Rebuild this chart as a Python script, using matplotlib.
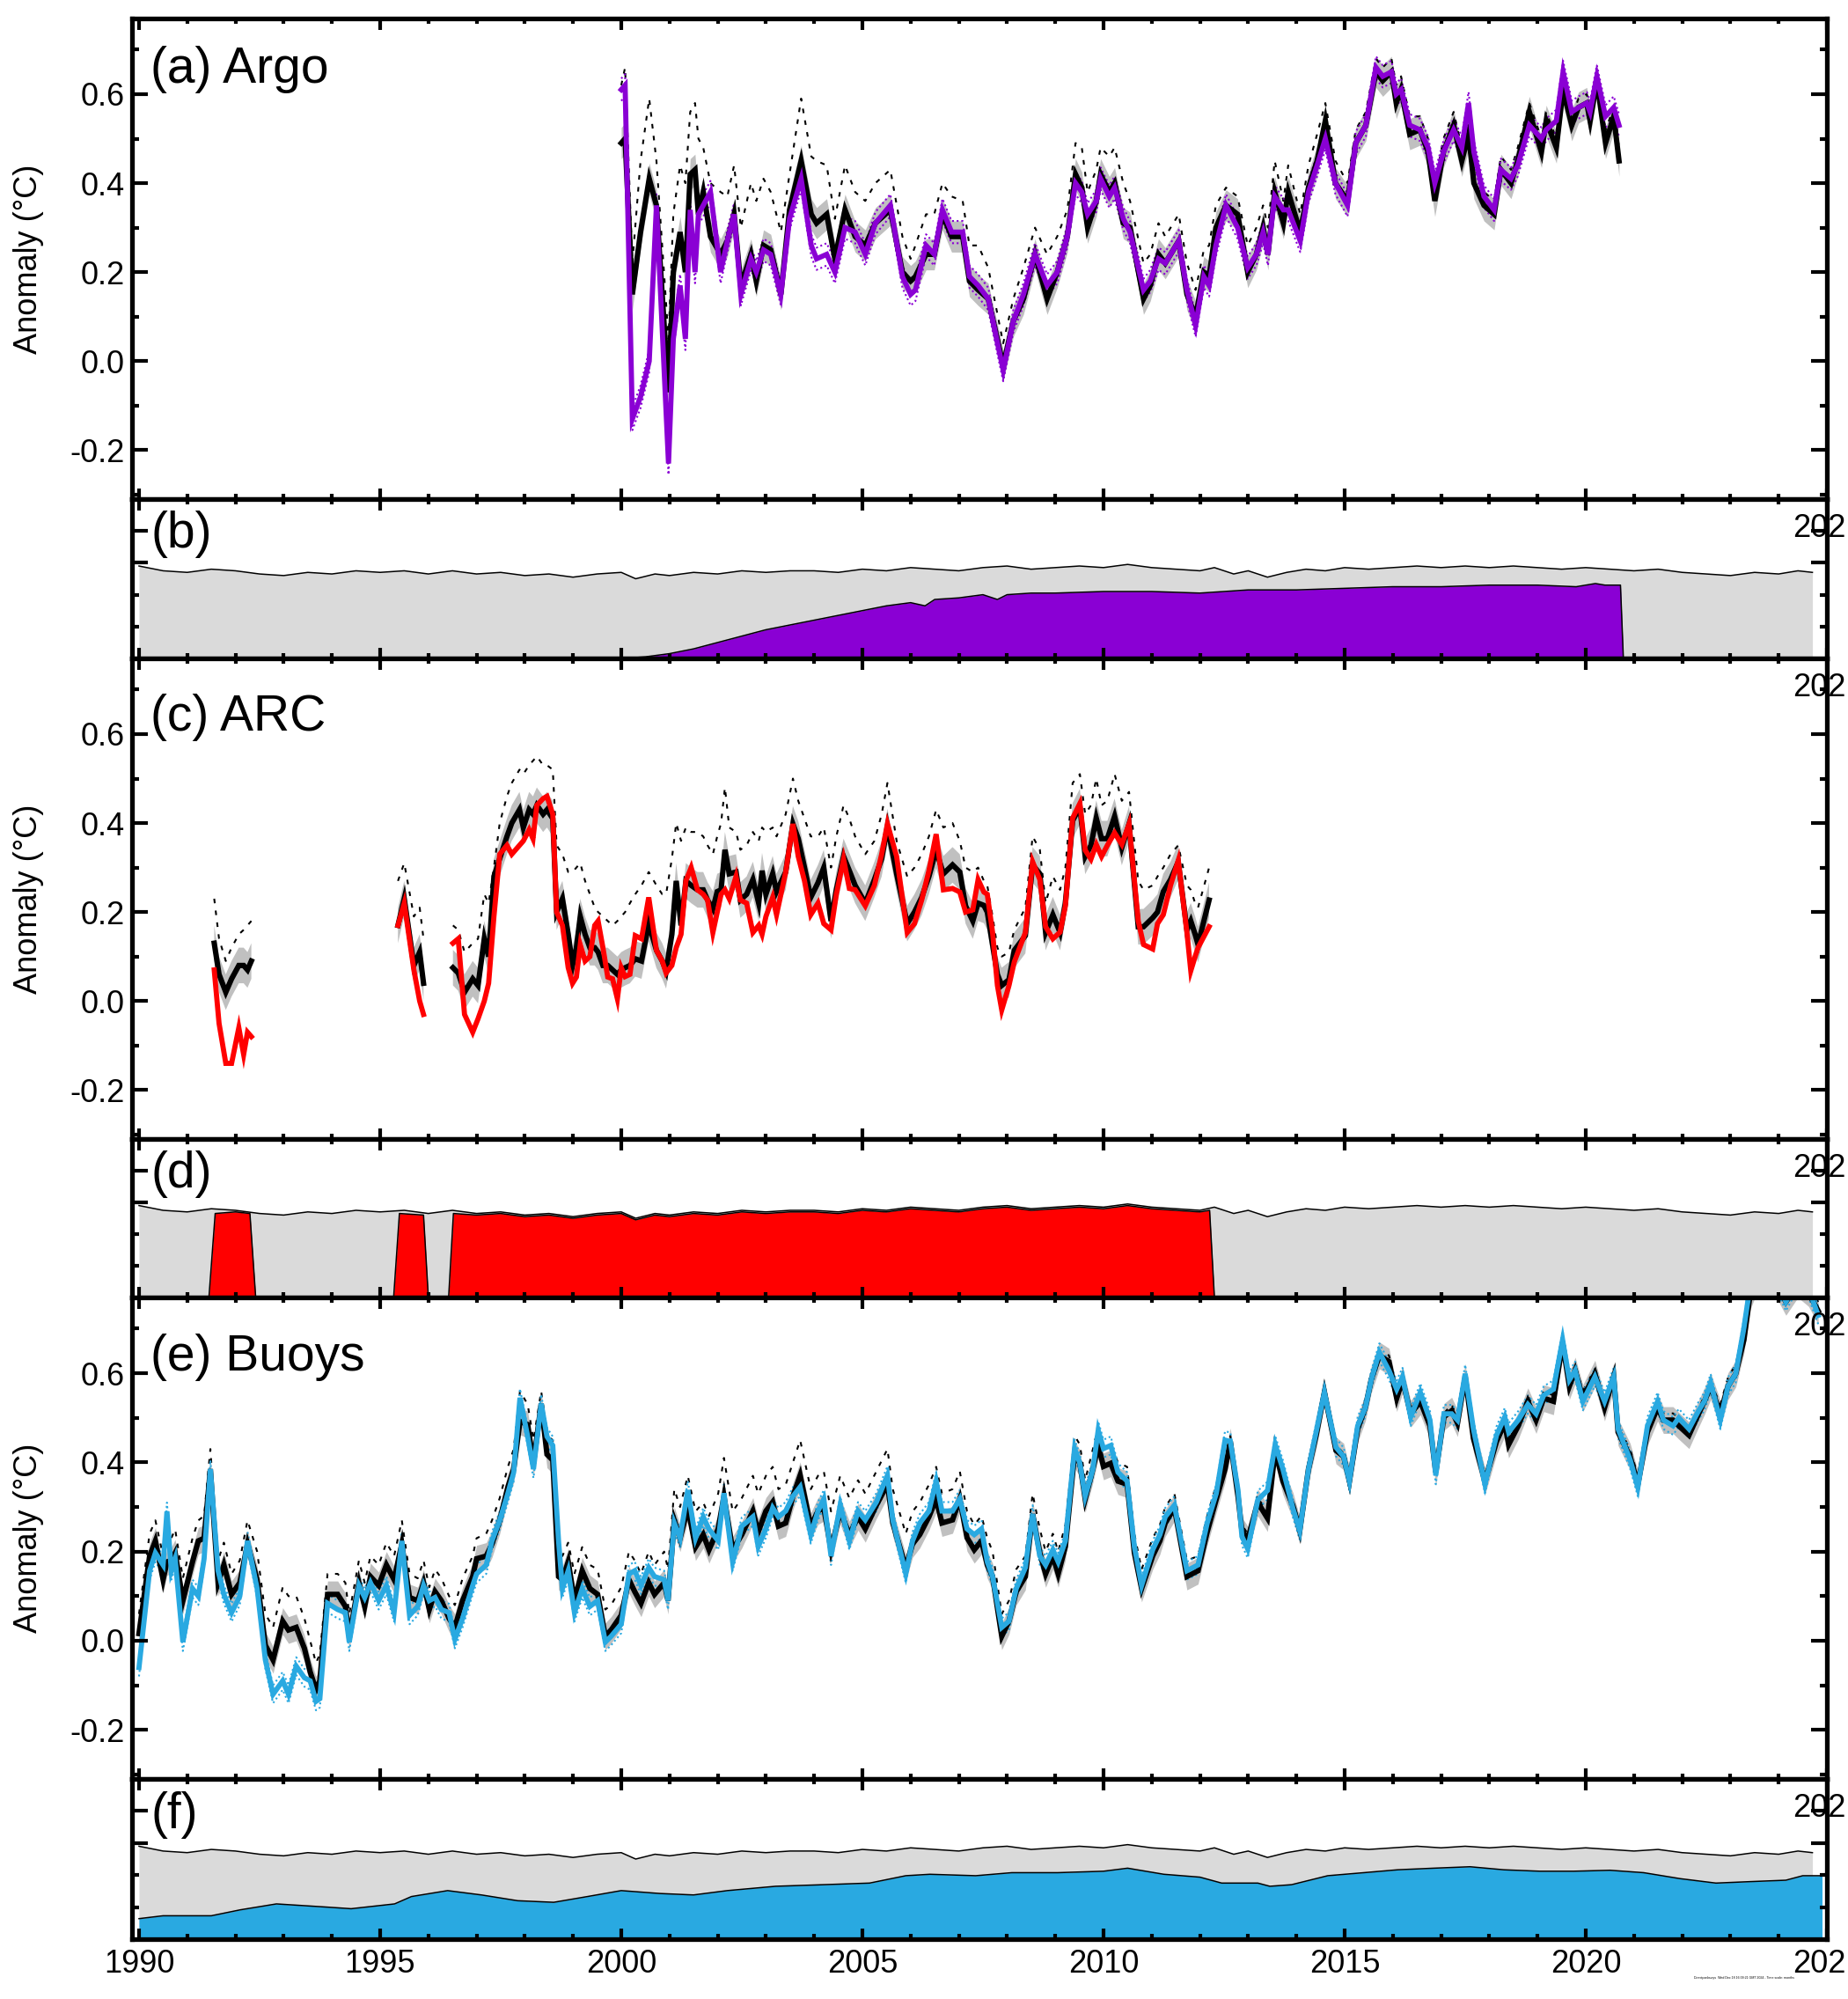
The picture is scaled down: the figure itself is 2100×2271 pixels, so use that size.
import numpy as np
import matplotlib
matplotlib.use("Agg")
import matplotlib.pyplot as plt
from matplotlib.ticker import MultipleLocator, FixedLocator, NullFormatter

plt.rcParams['font.family'] = ['Liberation Sans', 'DejaVu Sans']

# ---------------- (a) Argo: reference (black), Argo (purple), alternative (dotted)
argo_years = [2000.00, 2000.08, 2000.23, 2000.40, 2000.58, 2000.73, 2000.98, 2001.08, 2001.22, 2001.33,
              2001.43, 2001.53, 2001.60, 2001.70, 2001.85, 2002.06, 2002.20, 2002.34, 2002.48, 2002.69,
              2002.80, 2002.95, 2003.10, 2003.31, 2003.49, 2003.73, 2003.94, 2004.05, 2004.26, 2004.43,
              2004.64, 2004.85, 2005.06, 2005.27, 2005.58, 2005.83, 2006.00, 2006.10, 2006.32, 2006.49,
              2006.66, 2006.85, 2007.08, 2007.22, 2007.40, 2007.61, 2007.92, 2008.13, 2008.34, 2008.58,
              2008.83, 2009.04, 2009.25, 2009.42, 2009.55, 2009.67, 2009.85, 2009.94, 2010.12, 2010.23,
              2010.41, 2010.55, 2010.83, 2010.97, 2011.14, 2011.28, 2011.56, 2011.73, 2011.91, 2012.08,
              2012.19, 2012.33, 2012.54, 2012.78, 2012.99, 2013.17, 2013.31, 2013.41, 2013.55, 2013.73,
              2013.83, 2014.08, 2014.25, 2014.43, 2014.60, 2014.81, 2015.06, 2015.23, 2015.44, 2015.65,
              2015.79, 2015.97, 2016.07, 2016.17, 2016.35, 2016.56, 2016.73, 2016.87, 2017.05, 2017.26,
              2017.43, 2017.57, 2017.68, 2017.89, 2018.10, 2018.24, 2018.45, 2018.59, 2018.83, 2019.08,
              2019.18, 2019.39, 2019.53, 2019.71, 2019.85, 2020.02, 2020.09, 2020.23, 2020.41, 2020.58,
              2020.69]
argo_ref = [0.49, 0.50, 0.15, 0.29, 0.41, 0.35, -0.07, 0.20, 0.29, 0.20,
            0.42, 0.43, 0.33, 0.38, 0.28, 0.24, 0.27, 0.33, 0.17, 0.24,
            0.18, 0.26, 0.25, 0.15, 0.34, 0.45, 0.33, 0.31, 0.33, 0.23,
            0.34, 0.28, 0.26, 0.31, 0.34, 0.20, 0.18, 0.19, 0.24, 0.24,
            0.33, 0.28, 0.28, 0.18, 0.16, 0.14, -0.01, 0.09, 0.14, 0.24,
            0.14, 0.20, 0.28, 0.42, 0.39, 0.30, 0.36, 0.42, 0.38, 0.40,
            0.31, 0.30, 0.14, 0.17, 0.24, 0.22, 0.27, 0.15, 0.10, 0.20,
            0.19, 0.30, 0.35, 0.33, 0.20, 0.24, 0.30, 0.24, 0.38, 0.31,
            0.38, 0.29, 0.39, 0.45, 0.54, 0.40, 0.36, 0.49, 0.53, 0.65,
            0.63, 0.65, 0.58, 0.61, 0.51, 0.52, 0.47, 0.36, 0.47, 0.53,
            0.45, 0.51, 0.40, 0.35, 0.33, 0.43, 0.40, 0.45, 0.56, 0.47,
            0.54, 0.48, 0.61, 0.53, 0.57, 0.58, 0.54, 0.63, 0.49, 0.55,
            0.45]
argo_obs = [0.61, 0.62, -0.13, -0.08, 0.00, 0.35, -0.23, 0.05, 0.17, 0.05,
            0.34, 0.20, 0.33, 0.35, 0.38, 0.20, 0.27, 0.33, 0.15, 0.23,
            0.20, 0.25, 0.24, 0.15, 0.32, 0.41, 0.26, 0.23, 0.24, 0.20,
            0.30, 0.29, 0.24, 0.31, 0.35, 0.19, 0.15, 0.16, 0.26, 0.24,
            0.34, 0.29, 0.29, 0.19, 0.17, 0.14, -0.02, 0.09, 0.15, 0.24,
            0.17, 0.20, 0.28, 0.40, 0.38, 0.33, 0.36, 0.41, 0.37, 0.39,
            0.32, 0.29, 0.16, 0.18, 0.23, 0.22, 0.27, 0.16, 0.08, 0.19,
            0.17, 0.26, 0.35, 0.30, 0.21, 0.24, 0.29, 0.24, 0.37, 0.34,
            0.34, 0.27, 0.38, 0.44, 0.50, 0.40, 0.35, 0.49, 0.53, 0.66,
            0.64, 0.65, 0.60, 0.61, 0.53, 0.52, 0.48, 0.40, 0.47, 0.52,
            0.48, 0.58, 0.47, 0.37, 0.34, 0.43, 0.41, 0.44, 0.53, 0.50,
            0.52, 0.54, 0.65, 0.56, 0.57, 0.58, 0.56, 0.64, 0.55, 0.57,
            0.53]
argo_alt = [0.62, 0.66, 0.22, 0.45, 0.59, 0.45, 0.05, 0.33, 0.44, 0.40,
            0.56, 0.58, 0.50, 0.48, 0.40, 0.38, 0.37, 0.44, 0.30, 0.40,
            0.36, 0.41, 0.38, 0.29, 0.42, 0.59, 0.46, 0.45, 0.44, 0.32,
            0.44, 0.38, 0.36, 0.40, 0.43, 0.28, 0.23, 0.26, 0.33, 0.33,
            0.40, 0.37, 0.36, 0.26, 0.26, 0.21, 0.04, 0.14, 0.21, 0.30,
            0.24, 0.28, 0.34, 0.49, 0.48, 0.38, 0.43, 0.48, 0.46, 0.48,
            0.40, 0.36, 0.22, 0.24, 0.31, 0.28, 0.33, 0.22, 0.16, 0.25,
            0.26, 0.35, 0.39, 0.37, 0.26, 0.30, 0.35, 0.30, 0.45, 0.36,
            0.44, 0.33, 0.44, 0.51, 0.58, 0.45, 0.40, 0.52, 0.56, 0.68,
            0.66, 0.68, 0.62, 0.64, 0.55, 0.55, 0.50, 0.40, 0.50, 0.56,
            0.48, 0.54, 0.44, 0.38, 0.36, 0.46, 0.43, 0.48, 0.58, 0.50,
            0.56, 0.50, 0.63, 0.55, 0.59, 0.60, 0.57, 0.65, 0.52, 0.57,
            0.48]

# ---------------- (c) ARC (nan marks gaps in the record)
nan = float('nan')
arc_years = [1991.56, 1991.66, 1991.80, 1991.92, 1992.07, 1992.17, 1992.25, 1992.33, 1993.00, 1995.37,
             1995.50, 1995.70, 1995.82, 1995.90, 1996.20, 1996.51, 1996.62, 1996.75, 1996.92, 1997.03,
             1997.16, 1997.25, 1997.36, 1997.48, 1997.63, 1997.73, 1997.89, 1997.97, 1998.09, 1998.17,
             1998.25, 1998.38, 1998.46, 1998.58, 1998.66, 1998.78, 1998.90, 1998.99, 1999.07, 1999.15,
             1999.25, 1999.35, 1999.45, 1999.52, 1999.62, 1999.72, 1999.82, 1999.92, 2000.00, 2000.08,
             2000.18, 2000.29, 2000.42, 2000.57, 2000.73, 2000.85, 2000.93, 2001.05, 2001.14, 2001.24,
             2001.34, 2001.45, 2001.58, 2001.70, 2001.79, 2001.90, 2001.99, 2002.07, 2002.15, 2002.24,
             2002.38, 2002.47, 2002.60, 2002.73, 2002.85, 2002.92, 2003.00, 2003.14, 2003.22, 2003.41,
             2003.56, 2003.67, 2003.80, 2003.93, 2004.08, 2004.20, 2004.35, 2004.46, 2004.61, 2004.73,
             2004.85, 2005.06, 2005.25, 2005.40, 2005.52, 2005.71, 2005.93, 2006.08, 2006.23, 2006.38,
             2006.53, 2006.68, 2006.87, 2007.02, 2007.14, 2007.29, 2007.40, 2007.52, 2007.59, 2007.70,
             2007.80, 2007.89, 2008.04, 2008.15, 2008.38, 2008.53, 2008.68, 2008.80, 2008.95, 2009.10,
             2009.21, 2009.36, 2009.51, 2009.62, 2009.74, 2009.85, 2009.96, 2010.08, 2010.23, 2010.38,
             2010.53, 2010.72, 2010.83, 2011.02, 2011.12, 2011.24, 2011.39, 2011.55, 2011.73, 2011.81,
             2011.90, 2011.96, 2012.19]
arc_ref = [0.13, 0.06, 0.02, 0.05, 0.08, 0.08, 0.07, 0.09, nan, 0.17,
           0.23, 0.08, 0.11, 0.04, nan, 0.075, 0.063, 0.02, 0.05, 0.035,
           0.14, 0.10, 0.28, 0.32, 0.37, 0.40, 0.43, 0.39, 0.43, 0.42,
           0.44, 0.42, 0.43, 0.41, 0.20, 0.23, 0.15, 0.08, 0.12, 0.19,
           0.15, 0.12, 0.12, 0.11, 0.08, 0.08, 0.07, 0.06, 0.07, 0.075,
           0.08, 0.095, 0.09, 0.174, 0.114, 0.09, 0.068, 0.15, 0.27, 0.17,
           0.27, 0.26, 0.25, 0.25, 0.227, 0.207, 0.246, 0.25, 0.34, 0.286,
           0.29, 0.227, 0.24, 0.273, 0.22, 0.293, 0.24, 0.286, 0.246, 0.29,
           0.398, 0.365, 0.30, 0.233, 0.266, 0.30, 0.18, 0.25, 0.325, 0.293,
           0.26, 0.22, 0.273, 0.32, 0.392, 0.286, 0.174, 0.20, 0.233, 0.28,
           0.339, 0.286, 0.306, 0.29, 0.214, 0.18, 0.22, 0.215, 0.20, 0.127,
           0.06, 0.035, 0.048, 0.114, 0.147, 0.306, 0.286, 0.154, 0.194, 0.154,
           0.22, 0.405, 0.437, 0.325, 0.35, 0.411, 0.365, 0.365, 0.415, 0.345,
           0.398, 0.167, 0.167, 0.187, 0.20, 0.246, 0.273, 0.313, 0.16, 0.18,
           0.15, 0.127, 0.227]
arc_obs = [0.07, -0.05, -0.14, -0.14, -0.06, -0.12, -0.07, -0.08, nan, 0.17,
           0.22, 0.07, 0.00, -0.03, nan, 0.13, 0.14, -0.03, -0.07, -0.04,
           0.00, 0.04, 0.19, 0.33, 0.35, 0.33, 0.35, 0.36, 0.385, 0.365,
           0.44, 0.455, 0.46, 0.42, 0.20, 0.17, 0.075, 0.04, 0.054, 0.127,
           0.09, 0.10, 0.17, 0.18, 0.12, 0.054, 0.05, 0.005, 0.075, 0.055,
           0.06, 0.147, 0.14, 0.233, 0.114, 0.09, 0.063, 0.08, 0.12, 0.15,
           0.27, 0.30, 0.25, 0.24, 0.227, 0.154, 0.20, 0.24, 0.25, 0.23,
           0.28, 0.227, 0.22, 0.154, 0.17, 0.15, 0.19, 0.233, 0.194, 0.29,
           0.398, 0.325, 0.27, 0.194, 0.22, 0.174, 0.16, 0.24, 0.319, 0.253,
           0.25, 0.214, 0.26, 0.33, 0.398, 0.325, 0.154, 0.174, 0.227, 0.293,
           0.375, 0.25, 0.253, 0.245, 0.20, 0.205, 0.273, 0.245, 0.24, 0.154,
           0.035, -0.02, 0.035, 0.088, 0.154, 0.313, 0.273, 0.167, 0.14, 0.155,
           0.214, 0.411, 0.444, 0.339, 0.319, 0.352, 0.325, 0.35, 0.378, 0.352,
           0.398, 0.18, 0.127, 0.117, 0.174, 0.194, 0.26, 0.316, 0.154, 0.068,
           0.10, 0.12, 0.167]
arc_alt = [0.23, 0.14, 0.09, 0.12, 0.15, 0.16, 0.17, 0.18, nan, 0.27,
           0.31, 0.19, 0.21, 0.14, nan, 0.17, 0.16, 0.11, 0.13, 0.14,
           0.24, 0.22, 0.30, 0.40, 0.46, 0.49, 0.52, 0.51, 0.53, 0.54,
           0.55, 0.53, 0.53, 0.52, 0.35, 0.33, 0.29, 0.29, 0.30, 0.31,
           0.27, 0.24, 0.21, 0.20, 0.19, 0.18, 0.17, 0.18, 0.19, 0.20,
           0.22, 0.24, 0.26, 0.29, 0.26, 0.24, 0.24, 0.32, 0.40, 0.36,
           0.39, 0.38, 0.38, 0.37, 0.35, 0.33, 0.37, 0.40, 0.48, 0.39,
           0.38, 0.34, 0.35, 0.38, 0.36, 0.39, 0.38, 0.39, 0.37, 0.42,
           0.50, 0.45, 0.41, 0.37, 0.37, 0.39, 0.30, 0.37, 0.44, 0.41,
           0.37, 0.33, 0.36, 0.42, 0.49, 0.36, 0.28, 0.30, 0.33, 0.37,
           0.43, 0.39, 0.40, 0.36, 0.30, 0.29, 0.30, 0.27, 0.26, 0.19,
           0.12, 0.10, 0.11, 0.16, 0.21, 0.37, 0.34, 0.22, 0.28, 0.25,
           0.30, 0.49, 0.51, 0.42, 0.44, 0.50, 0.44, 0.45, 0.51, 0.45,
           0.47, 0.27, 0.25, 0.26, 0.28, 0.30, 0.33, 0.35, 0.26, 0.25,
           0.22, 0.21, 0.30]

# ---------------- (e) Buoys
buoy_years = [1990.00, 1990.22, 1990.34, 1990.50, 1990.58, 1990.67, 1990.75, 1990.91, 1991.11, 1991.23,
              1991.35, 1991.48, 1991.64, 1991.76, 1991.92, 1992.09, 1992.25, 1992.45, 1992.62, 1992.78,
              1992.98, 1993.10, 1993.26, 1993.43, 1993.55, 1993.67, 1993.75, 1993.91, 1994.12, 1994.28,
              1994.36, 1994.56, 1994.68, 1994.80, 1994.97, 1995.13, 1995.29, 1995.45, 1995.61, 1995.78,
              1995.90, 1996.02, 1996.14, 1996.27, 1996.43, 1996.55, 1996.71, 1996.92, 1997.00, 1997.20,
              1997.32, 1997.48, 1997.65, 1997.77, 1997.90, 1998.06, 1998.18, 1998.34, 1998.46, 1998.58,
              1998.70, 1998.78, 1998.90, 1999.03, 1999.19, 1999.35, 1999.51, 1999.67, 1999.79, 2000.00,
              2000.16, 2000.28, 2000.41, 2000.57, 2000.69, 2000.89, 2000.97, 2001.10, 2001.22, 2001.38,
              2001.54, 2001.70, 2001.82, 2002.01, 2002.13, 2002.31, 2002.50, 2002.73, 2002.84, 2003.00,
              2003.14, 2003.26, 2003.41, 2003.56, 2003.71, 2003.93, 2004.08, 2004.20, 2004.35, 2004.54,
              2004.73, 2004.91, 2005.06, 2005.29, 2005.52, 2005.63, 2005.90, 2006.04, 2006.19, 2006.38,
              2006.53, 2006.65, 2006.87, 2007.02, 2007.17, 2007.32, 2007.47, 2007.59, 2007.70, 2007.89,
              2008.04, 2008.19, 2008.38, 2008.53, 2008.68, 2008.80, 2008.95, 2009.06, 2009.21, 2009.40,
              2009.51, 2009.62, 2009.78, 2009.89, 2010.00, 2010.15, 2010.30, 2010.49, 2010.64, 2010.79,
              2011.02, 2011.17, 2011.28, 2011.47, 2011.73, 2011.96, 2012.15, 2012.34, 2012.52, 2012.63,
              2012.79, 2012.87, 2012.99, 2013.20, 2013.40, 2013.56, 2013.72, 2013.93, 2014.07, 2014.25,
              2014.41, 2014.58, 2014.82, 2014.98, 2015.10, 2015.27, 2015.43, 2015.55, 2015.72, 2015.92,
              2016.08, 2016.20, 2016.37, 2016.57, 2016.77, 2016.89, 2017.06, 2017.22, 2017.34, 2017.50,
              2017.67, 2017.91, 2018.15, 2018.32, 2018.40, 2018.60, 2018.80, 2018.97, 2019.13, 2019.33,
              2019.52, 2019.66, 2019.78, 2019.94, 2020.19, 2020.39, 2020.58, 2020.67, 2020.92, 2021.08,
              2021.28, 2021.49, 2021.61, 2021.81, 2021.93, 2022.14, 2022.34, 2022.46, 2022.59, 2022.79,
              2022.95, 2023.11, 2023.28, 2023.40, 2023.65, 2023.90, 2024.15, 2024.40, 2024.62, 2024.82]
buoy_ref = [0.016, 0.19, 0.224, 0.137, 0.177, 0.18, 0.197, 0.09, 0.177, 0.224,
            0.23, 0.385, 0.13, 0.17, 0.104, 0.13, 0.217, 0.137, -0.01, -0.043,
            0.044, 0.024, 0.03, -0.017, -0.07, -0.11, -0.09, 0.104, 0.104, 0.077,
            0.01, 0.13, 0.077, 0.144, 0.124, 0.17, 0.137, 0.217, 0.097, 0.09,
            0.13, 0.07, 0.11, 0.09, 0.05, 0.03, 0.09, 0.144, 0.184, 0.19,
            0.217, 0.27, 0.345, 0.385, 0.492, 0.485, 0.398, 0.532, 0.418, 0.405,
            0.144, 0.137, 0.177, 0.09, 0.157, 0.117, 0.104, 0.01, 0.024, 0.057,
            0.137, 0.11, 0.084, 0.13, 0.104, 0.13, 0.09, 0.27, 0.23, 0.298,
            0.21, 0.238, 0.204, 0.251, 0.324, 0.204, 0.238, 0.291, 0.244, 0.291,
            0.311, 0.257, 0.264, 0.324, 0.371, 0.257, 0.291, 0.298, 0.204, 0.291,
            0.238, 0.278, 0.251, 0.304, 0.351, 0.264, 0.164, 0.217, 0.238, 0.278,
            0.318, 0.264, 0.271, 0.318, 0.231, 0.204, 0.224, 0.17, 0.144, 0.01,
            0.044, 0.11, 0.144, 0.284, 0.197, 0.15, 0.19, 0.15, 0.211, 0.418,
            0.398, 0.318, 0.385, 0.438, 0.391, 0.398, 0.358, 0.351, 0.197, 0.117,
            0.19, 0.224, 0.264, 0.298, 0.144, 0.157, 0.244, 0.318, 0.385, 0.447,
            0.323, 0.247, 0.227, 0.31, 0.275, 0.427, 0.358, 0.302, 0.247, 0.385,
            0.461, 0.557, 0.427, 0.413, 0.358, 0.475, 0.523, 0.585, 0.64, 0.626,
            0.544, 0.585, 0.509, 0.537, 0.482, 0.378, 0.502, 0.516, 0.488, 0.592,
            0.454, 0.358, 0.447, 0.488, 0.44, 0.482, 0.537, 0.495, 0.544, 0.537,
            0.668, 0.571, 0.606, 0.544, 0.599, 0.523, 0.592, 0.468, 0.413, 0.351,
            0.468, 0.523, 0.495, 0.495, 0.482, 0.461, 0.509, 0.537, 0.571, 0.509,
            0.571, 0.599, 0.675, 0.77, 0.84, 0.81, 0.76, 0.80, 0.78, 0.74]
buoy_obs = [-0.06, 0.157, 0.197, 0.17, 0.29, 0.157, 0.184, -0.003, 0.117, 0.10,
            0.184, 0.385, 0.157, 0.104, 0.063, 0.10, 0.224, 0.117, -0.043, -0.12,
            -0.09, -0.12, -0.057, -0.083, -0.09, -0.136, -0.13, 0.084, 0.07, 0.063,
            -0.003, 0.124, 0.097, 0.13, 0.09, 0.124, 0.063, 0.224, 0.057, 0.077,
            0.124, 0.09, 0.097, 0.07, 0.063, 0.003, 0.05, 0.124, 0.15, 0.17,
            0.224, 0.27, 0.331, 0.378, 0.545, 0.458, 0.385, 0.532, 0.458, 0.438,
            0.224, 0.117, 0.157, 0.063, 0.117, 0.077, 0.09, -0.003, 0.01, 0.037,
            0.15, 0.157, 0.124, 0.164, 0.144, 0.137, 0.09, 0.264, 0.23, 0.338,
            0.23, 0.278, 0.25, 0.224, 0.331, 0.177, 0.257, 0.278, 0.211, 0.251,
            0.298, 0.278, 0.291, 0.324, 0.345, 0.238, 0.291, 0.318, 0.19, 0.304,
            0.224, 0.291, 0.271, 0.311, 0.371, 0.271, 0.15, 0.224, 0.264, 0.291,
            0.358, 0.291, 0.291, 0.318, 0.251, 0.238, 0.251, 0.177, 0.144, 0.03,
            0.044, 0.117, 0.164, 0.284, 0.19, 0.17, 0.204, 0.177, 0.224, 0.431,
            0.398, 0.324, 0.385, 0.472, 0.431, 0.438, 0.378, 0.358, 0.211, 0.124,
            0.204, 0.238, 0.278, 0.304, 0.157, 0.17, 0.264, 0.331, 0.45, 0.447,
            0.337, 0.234, 0.206, 0.316, 0.337, 0.44, 0.385, 0.296, 0.247, 0.385,
            0.468, 0.557, 0.434, 0.413, 0.358, 0.482, 0.523, 0.585, 0.647, 0.606,
            0.564, 0.592, 0.502, 0.557, 0.495, 0.371, 0.509, 0.509, 0.495, 0.599,
            0.475, 0.351, 0.461, 0.502, 0.468, 0.495, 0.53, 0.509, 0.551, 0.564,
            0.675, 0.585, 0.606, 0.537, 0.592, 0.537, 0.592, 0.475, 0.406, 0.344,
            0.482, 0.537, 0.495, 0.482, 0.50, 0.475, 0.516, 0.537, 0.578, 0.495,
            0.571, 0.599, 0.702, 0.79, 0.85, 0.82, 0.76, 0.81, 0.79, 0.73]
buoy_alt = [0.06, 0.24, 0.27, 0.19, 0.23, 0.23, 0.25, 0.14, 0.23, 0.27,
            0.28, 0.43, 0.18, 0.22, 0.15, 0.18, 0.27, 0.20, 0.06, 0.03,
            0.12, 0.10, 0.10, 0.05, 0.00, -0.05, -0.03, 0.15, 0.15, 0.13,
            0.06, 0.18, 0.13, 0.19, 0.17, 0.22, 0.19, 0.27, 0.15, 0.14,
            0.18, 0.12, 0.16, 0.14, 0.10, 0.08, 0.14, 0.19, 0.23, 0.24,
            0.27, 0.32, 0.39, 0.43, 0.56, 0.53, 0.45, 0.56, 0.46, 0.45,
            0.20, 0.19, 0.22, 0.15, 0.21, 0.17, 0.16, 0.07, 0.08, 0.12,
            0.20, 0.18, 0.15, 0.20, 0.17, 0.20, 0.16, 0.34, 0.30, 0.37,
            0.29, 0.31, 0.28, 0.33, 0.41, 0.29, 0.32, 0.37, 0.33, 0.37,
            0.39, 0.34, 0.35, 0.40, 0.45, 0.34, 0.37, 0.38, 0.29, 0.37,
            0.32, 0.36, 0.33, 0.38, 0.43, 0.34, 0.24, 0.29, 0.31, 0.35,
            0.39, 0.33, 0.34, 0.38, 0.29, 0.26, 0.28, 0.23, 0.20, 0.06,
            0.09, 0.16, 0.19, 0.33, 0.25, 0.20, 0.24, 0.20, 0.26, 0.46,
            0.44, 0.36, 0.43, 0.48, 0.43, 0.44, 0.40, 0.39, 0.24, 0.16,
            0.23, 0.26, 0.30, 0.33, 0.18, 0.19, 0.28, 0.35, 0.41, 0.46,
            0.34, 0.26, 0.24, 0.32, 0.29, 0.44, 0.37, 0.31, 0.26, 0.40,
            0.47, 0.57, 0.44, 0.42, 0.37, 0.49, 0.53, 0.59, 0.65, 0.64,
            0.56, 0.60, 0.52, 0.55, 0.49, 0.39, 0.51, 0.53, 0.50, 0.60,
            0.47, 0.37, 0.46, 0.50, 0.45, 0.49, 0.55, 0.51, 0.56, 0.55,
            0.68, 0.58, 0.62, 0.56, 0.61, 0.54, 0.60, 0.48, 0.43, 0.37,
            0.48, 0.53, 0.51, 0.51, 0.50, 0.48, 0.52, 0.55, 0.58, 0.53,
            0.59, 0.62, 0.70, 0.79, 0.86, 0.83, 0.78, 0.82, 0.80, 0.76]

# uncertainty half-widths (grey band around reference, dotted lines around obs)
argo_ref_unc, argo_obs_unc = 0.035, 0.025
arc_ref_unc = 0.04
buoy_ref_unc, buoy_obs_unc = 0.03, 0.02

# ---------------- coverage panels (fraction of panel height)
total_years = [1990.0, 1990.5, 1991.0, 1991.5, 1992.0, 1992.5, 1993.0, 1993.5, 1994.0, 1994.5,
               1995.0, 1995.5, 1996.0, 1996.5, 1997.0, 1997.5, 1998.0, 1998.5, 1999.0, 1999.5,
               2000.0, 2000.3, 2000.7, 2001.0, 2001.5, 2002.0, 2002.5, 2003.0, 2003.5, 2004.0,
               2004.5, 2005.0, 2005.5, 2006.0, 2006.5, 2007.0, 2007.5, 2008.0, 2008.5, 2009.0,
               2009.5, 2010.0, 2010.5, 2011.0, 2011.5, 2012.0, 2012.3, 2012.7, 2013.0, 2013.4,
               2013.8, 2014.2, 2014.6, 2015.0, 2015.5, 2016.0, 2016.5, 2017.0, 2017.5, 2018.0,
               2018.5, 2019.0, 2019.5, 2020.0, 2020.5, 2021.0, 2021.5, 2022.0, 2022.5, 2023.0,
               2023.5, 2024.0, 2024.4, 2024.7]
total_cover = [0.58, 0.55, 0.54, 0.56, 0.55, 0.53, 0.52, 0.54, 0.53, 0.55,
               0.54, 0.55, 0.53, 0.55, 0.53, 0.54, 0.52, 0.53, 0.51, 0.53,
               0.54, 0.50, 0.53, 0.52, 0.54, 0.53, 0.55, 0.54, 0.55, 0.55,
               0.54, 0.56, 0.55, 0.57, 0.56, 0.55, 0.57, 0.58, 0.56, 0.57,
               0.58, 0.57, 0.59, 0.57, 0.56, 0.55, 0.57, 0.53, 0.55, 0.51,
               0.54, 0.56, 0.55, 0.57, 0.56, 0.57, 0.58, 0.57, 0.58, 0.57,
               0.58, 0.57, 0.56, 0.57, 0.56, 0.55, 0.56, 0.54, 0.53, 0.52,
               0.54, 0.53, 0.55, 0.54]

argo_cov_years = [2000.0, 2000.5, 2001.0, 2001.5, 2002.0, 2002.5, 2003.0, 2003.5, 2004.0, 2004.5,
                  2005.0, 2005.5, 2006.0, 2006.3, 2006.5, 2007.0, 2007.5, 2007.8, 2008.0, 2008.5,
                  2009.0, 2010.0, 2011.0, 2012.0, 2013.0, 2014.0, 2015.0, 2016.0, 2017.0, 2018.0,
                  2019.0, 2019.8, 2020.2, 2020.4, 2020.72, 2020.78]
argo_cover = [0.0, 0.01, 0.03, 0.06, 0.10, 0.14, 0.18, 0.21, 0.24, 0.27,
              0.30, 0.33, 0.35, 0.33, 0.37, 0.38, 0.40, 0.37, 0.40, 0.41,
              0.41, 0.42, 0.42, 0.41, 0.43, 0.43, 0.44, 0.45, 0.45, 0.46,
              0.46, 0.45, 0.47, 0.46, 0.46, 0.0]

arc_cov_years = [1991.45, 1991.58, 1992.0, 1992.3, 1992.42, 1995.28, 1995.40, 1995.90, 1996.0, 1996.42,
                 1996.52, 1997.0, 1997.5, 1998.0, 1998.5, 1999.0, 1999.5, 2000.0, 2000.3, 2000.7,
                 2001.0, 2001.5, 2002.0, 2002.5, 2003.0, 2003.5, 2004.0, 2004.5, 2005.0, 2005.5,
                 2006.0, 2006.5, 2007.0, 2007.5, 2008.0, 2008.5, 2009.0, 2009.5, 2010.0, 2010.5,
                 2011.0, 2011.5, 2012.0, 2012.2, 2012.3]
arc_cover = [0.0, 0.53, 0.54, 0.53, 0.0, 0.0, 0.53, 0.52, 0.0, 0.0,
             0.53, 0.52, 0.53, 0.51, 0.52, 0.50, 0.52, 0.53, 0.49, 0.52,
             0.51, 0.53, 0.52, 0.54, 0.53, 0.54, 0.54, 0.53, 0.55, 0.54,
             0.56, 0.55, 0.54, 0.56, 0.57, 0.55, 0.56, 0.57, 0.56, 0.58,
             0.56, 0.55, 0.54, 0.55, 0.0]

buoy_cov_years = [1990.0, 1990.5, 1991.5, 1992.1, 1992.85, 1993.9, 1994.4, 1995.3, 1995.65, 1996.4,
                  1997.1, 1997.85, 1998.6, 1999.3, 2000.0, 2000.8, 2001.5, 2002.2, 2003.2, 2004.2,
                  2005.15, 2005.9, 2006.4, 2007.35, 2008.1, 2009.05, 2010.0, 2010.5, 2011.25, 2012.0,
                  2012.45, 2013.2, 2013.45, 2013.9, 2014.65, 2015.4, 2016.1, 2016.85, 2017.6, 2018.3,
                  2019.05, 2019.75, 2020.5, 2021.2, 2021.95, 2022.7, 2023.4, 2024.15, 2024.5, 2024.9]
buoy_cover = [0.128, 0.146, 0.146, 0.183, 0.22, 0.20, 0.19, 0.22, 0.266, 0.303,
              0.276, 0.24, 0.23, 0.266, 0.303, 0.285, 0.276, 0.303, 0.33, 0.34,
              0.35, 0.396, 0.405, 0.396, 0.415, 0.415, 0.424, 0.443, 0.405, 0.387,
              0.35, 0.35, 0.33, 0.34, 0.396, 0.415, 0.433, 0.443, 0.452, 0.433,
              0.424, 0.424, 0.43, 0.415, 0.378, 0.35, 0.359, 0.368, 0.396, 0.396]

PURPLE = '#8a00d4'
RED = '#ff0000'
BLUE = '#29a9e1'
BAND = '#c0c0c0'
COVER_GREY = '#dadada'

W, H = 2100, 2271
fig = plt.figure(figsize=(W / 100, H / 100), dpi=100)

X0, X1 = 150, 2076


def panel(top, bottom):
    return fig.add_axes([X0 / W, 1 - bottom / H, (X1 - X0) / W, (bottom - top) / H])


def year_label(v, pos):
    # the 2025 label is written separately, as it runs off the right edge
    return '' if v > 2024.5 else '%d' % v


def style(ax, anomaly, bottom_labels):
    ax.set_xlim(1989.855, 2025.0)
    ax.xaxis.set_major_locator(MultipleLocator(5))
    ax.xaxis.set_minor_locator(MultipleLocator(1))
    ax.xaxis.set_major_formatter(year_label)
    if anomaly:
        ax.set_ylim(-0.31, 0.77)
        ax.yaxis.set_major_locator(MultipleLocator(0.2))
        ax.yaxis.set_minor_locator(MultipleLocator(0.1))
        ax.yaxis.set_major_formatter(lambda v, p: '%.1f' % v)
        ax.set_ylabel('Anomaly (°C)', fontsize=26)
        ax.yaxis.set_label_coords(-0.052, 0.5)
    else:
        ax.set_ylim(0, 1)
        ax.yaxis.set_major_locator(FixedLocator([0.6, 0.8]))
        ax.yaxis.set_minor_locator(FixedLocator([0.2, 0.4]))
        ax.yaxis.set_major_formatter(NullFormatter())
    ax.tick_params(which='both', direction='in', top=True, right=True,
                   width=3, labelsize=26, labelbottom=bottom_labels)
    ax.tick_params(axis='y', which='major', length=13, pad=6)
    ax.tick_params(axis='y', which='minor', length=6)
    ax.tick_params(axis='x', which='major', length=9, pad=8)
    ax.tick_params(axis='x', which='minor', length=4.5)
    for s in ax.spines.values():
        s.set_linewidth(3.8)
        s.set_zorder(12)
    ax.xaxis.set_zorder(11)
    ax.yaxis.set_zorder(11)
    ax.set_facecolor('white')


def draw_anomaly(ax, years, ref, obs, alt, color, ref_unc, obs_unc=None):
    yrs = np.array(years)
    ref = np.array(ref, dtype=float)
    obs = np.array(obs, dtype=float)
    ax.fill_between(yrs, ref - ref_unc, ref + ref_unc, color=BAND, lw=0, zorder=1)
    ax.plot(yrs, alt, color='k', lw=1.5, ls=(0, (2.5, 4)), zorder=2)
    if obs_unc is not None:
        for sgn in (-1, 1):
            ax.plot(yrs, obs + sgn * obs_unc, color=color, lw=1.5, ls=(0, (1, 1.5)), zorder=3)
    ax.plot(yrs, ref, color='k', lw=4.4, zorder=4, solid_joinstyle='miter')
    ax.plot(yrs, obs, color=color, lw=4.2, zorder=5, solid_joinstyle='miter')


def draw_cover(ax, years, cover, color):
    ax.fill_between(total_years, 0, total_cover, color=COVER_GREY, lw=0, zorder=1)
    ax.plot(total_years, total_cover, color='k', lw=1.1, zorder=2)
    ax.fill_between(years, 0, cover, color=color, lw=0, zorder=3)
    ax.plot(years, cover, color='k', lw=1.1, zorder=4)


def label(ax, text, y):
    ax.text(0.011, y, text, transform=ax.transAxes, fontsize=41, va='baseline', ha='left', zorder=20)


def stray_year(ax, y, dy, va):
    # the 2025 label: only its first three digits fit before the page edge
    ax.annotate('202', xy=(2098 / W, y), xycoords=('figure fraction', 'axes fraction'),
                xytext=(0, dy), textcoords='offset points', ha='right', va=va,
                fontsize=26, annotation_clip=False, zorder=6)


ax_a = panel(21, 567)
ax_b = panel(567, 748)
ax_c = panel(748, 1294)
ax_d = panel(1294, 1474)
ax_e = panel(1474, 2021)
ax_f = panel(2021, 2203)

draw_anomaly(ax_a, argo_years, argo_ref, argo_obs, argo_alt, PURPLE, argo_ref_unc, argo_obs_unc)
draw_cover(ax_b, argo_cov_years, argo_cover, PURPLE)
draw_anomaly(ax_c, arc_years, arc_ref, arc_obs, arc_alt, RED, arc_ref_unc)
draw_cover(ax_d, arc_cov_years, arc_cover, RED)
draw_anomaly(ax_e, buoy_years, buoy_ref, buoy_obs, buoy_alt, BLUE, buoy_ref_unc, buoy_obs_unc)
draw_cover(ax_f, buoy_cov_years, buoy_cover, BLUE)

for ax, anom in [(ax_a, True), (ax_b, False), (ax_c, True), (ax_d, False), (ax_e, True)]:
    style(ax, anom, False)
style(ax_f, False, True)

label(ax_a, '(a) Argo', 0.866)
label(ax_b, '(b)', 0.694)
label(ax_c, '(c) ARC', 0.850)
label(ax_d, '(d)', 0.694)
label(ax_e, '(e) Buoys', 0.848)
label(ax_f, '(f)', 0.694)

for ax in (ax_b, ax_c, ax_d, ax_e, ax_f):
    stray_year(ax, 1, -24, 'center')
stray_year(ax_f, 0, -8, 'top')

fig.text(1982 / W, 1 - 2247 / H, 'Directpanbuoys  Wed Dec 18 16:09:21 GMT 2024 - Time scale: months',
         fontsize=2.6, ha='center', va='center')

fig.savefig('out.png', dpi=100)
